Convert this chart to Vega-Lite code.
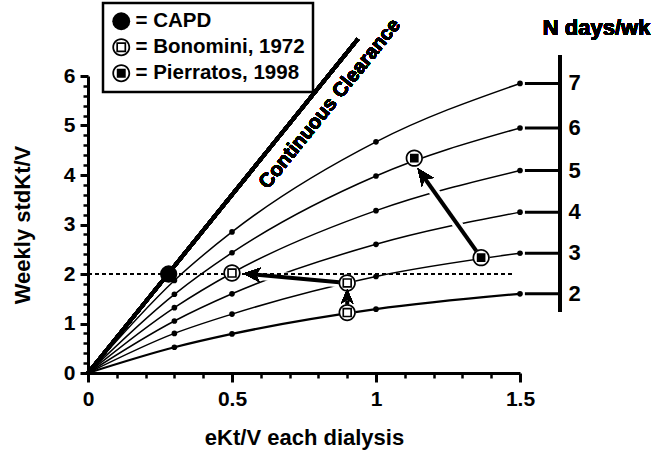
{
  "$schema": "https://vega.github.io/schema/vega-lite/v6.json",
  "autosize": "none",
  "width": 432,
  "height": 297,
  "padding": {"left": 88, "top": 76, "right": 147, "bottom": 77},
  "background": "white",
  "config": {
    "font": "Liberation Sans",
    "view": {"stroke": null},
    "legend": {"strokeWidth": 2.5},
    "axis": {"ticks": true}
  },
  "datasets": {
    "curves": [
      {"n": 2, "x": 0, "y": 0}, {"n": 2, "x": 0.3, "y": 0.52}, {"n": 2, "x": 0.5, "y": 0.79}, {"n": 2, "x": 1, "y": 1.29}, {"n": 2, "x": 1.5, "y": 1.6},
      {"n": 3, "x": 0, "y": 0}, {"n": 3, "x": 0.3, "y": 0.8}, {"n": 3, "x": 0.5, "y": 1.19}, {"n": 3, "x": 1, "y": 1.95}, {"n": 3, "x": 1.5, "y": 2.42},
      {"n": 4, "x": 0, "y": 0}, {"n": 4, "x": 0.3, "y": 1.05}, {"n": 4, "x": 0.5, "y": 1.6}, {"n": 4, "x": 1, "y": 2.6}, {"n": 4, "x": 1.5, "y": 3.25},
      {"n": 5, "x": 0, "y": 0}, {"n": 5, "x": 0.3, "y": 1.32}, {"n": 5, "x": 0.5, "y": 2.02}, {"n": 5, "x": 1, "y": 3.28}, {"n": 5, "x": 1.5, "y": 4.09},
      {"n": 6, "x": 0, "y": 0}, {"n": 6, "x": 0.3, "y": 1.59}, {"n": 6, "x": 0.5, "y": 2.43}, {"n": 6, "x": 1, "y": 3.98}, {"n": 6, "x": 1.5, "y": 4.95},
      {"n": 7, "x": 0, "y": 0}, {"n": 7, "x": 0.3, "y": 1.87}, {"n": 7, "x": 0.5, "y": 2.85}, {"n": 7, "x": 1, "y": 4.67}, {"n": 7, "x": 1.5, "y": 5.85}
    ],
    "markers": [
      {"series": "CAPD", "x": 0.28, "y": 2.0},
      {"series": "Bonomini, 1972", "x": 0.5, "y": 2.02},
      {"series": "Bonomini, 1972", "x": 0.9, "y": 1.82},
      {"series": "Bonomini, 1972", "x": 0.9, "y": 1.22},
      {"series": "Pierratos, 1998", "x": 1.365, "y": 2.33},
      {"series": "Pierratos, 1998", "x": 1.133, "y": 4.34}
    ],
    "arrows": [
      {"x": 0.9, "y": 1.82, "x2": 0.578, "y2": 1.99},
      {"x": 1.365, "y": 2.33, "x2": 1.167, "y2": 3.95},
      {"x": 0.9, "y": 1.22, "x2": 0.9, "y2": 1.47}
    ]
  },
  "resolve": {"axis": {"x": "independent", "y": "independent"}},
  "layer": [
    {
      "encoding": {
        "x": {
          "type": "quantitative",
          "scale": {"domain": [0, 1.5], "nice": false, "zero": false},
          "axis": {
            "values": [0, 0.5, 1, 1.5],
            "format": "~g",
            "orient": "bottom",
            "ticks": true,
            "tickSize": 9,
            "tickWidth": 3,
            "tickColor": "black",
            "domainColor": "black",
            "domainWidth": 3,
            "grid": false,
            "labelOverlap": false,
            "labelFlush": false,
            "labelFontSize": 21,
            "labelFontWeight": "bold",
            "labelColor": "black",
            "labelPadding": 6,
            "title": "eKt/V each dialysis",
            "titleFontSize": 22,
            "titleFontWeight": "bold",
            "titleColor": "black",
            "titlePadding": 18
          }
        },
        "y": {
          "type": "quantitative",
          "scale": {"domain": [0, 6], "nice": false, "zero": false},
          "axis": {
            "values": [0, 1, 2, 3, 4, 5, 6],
            "format": "~g",
            "orient": "left",
            "ticks": true,
            "tickSize": 8,
            "tickWidth": 3,
            "tickColor": "black",
            "domainColor": "black",
            "domainWidth": 3,
            "grid": false,
            "labelOverlap": false,
            "labelFlush": false,
            "labelFontSize": 21,
            "labelFontWeight": "bold",
            "labelColor": "black",
            "labelPadding": 5,
            "title": "Weekly stdKt/V",
            "titleFontSize": 22,
            "titleFontWeight": "bold",
            "titleColor": "black",
            "titlePadding": 29
          }
        }
      },
      "layer": [
        {
          "data": {"name": "curves"},
          "mark": {"type": "rule", "color": "black", "strokeWidth": 3.5},
          "encoding": {"x": {"datum": 0}, "y": {"datum": 0}, "x2": {"datum": 0.9375}, "y2": {"datum": 6.75}}
        },
        {
          "data": {"name": "curves"},
          "transform": [{"filter": "datum.n != 2"}],
          "mark": {"type": "line", "color": "black", "strokeWidth": 1.5, "interpolate": "monotone"},
          "encoding": {"x": {"field": "x", "type": "quantitative"}, "y": {"field": "y", "type": "quantitative"}, "detail": {"field": "n", "type": "nominal"}}
        },
        {
          "data": {"name": "curves"},
          "transform": [{"filter": "datum.n == 2"}],
          "mark": {"type": "line", "color": "black", "strokeWidth": 2.3, "interpolate": "monotone"},
          "encoding": {"x": {"field": "x", "type": "quantitative"}, "y": {"field": "y", "type": "quantitative"}, "detail": {"field": "n", "type": "nominal"}}
        },
        {
          "data": {"name": "curves"},
          "transform": [{"filter": "datum.x > 0"}],
          "mark": {"type": "point", "shape": "circle", "filled": true, "color": "black", "opacity": 1, "size": 32},
          "encoding": {"x": {"field": "x", "type": "quantitative"}, "y": {"field": "y", "type": "quantitative"}}
        },
        {
          "data": {"name": "arrows"},
          "transform": [{"filter": "datum.x != datum.x2"}],
          "mark": {"type": "rule", "color": "white", "strokeWidth": 10},
          "encoding": {"x": {"field": "x", "type": "quantitative"}, "y": {"field": "y", "type": "quantitative"}, "x2": {"field": "x2"}, "y2": {"field": "y2"}}
        },
        {
          "data": {"name": "curves"},
          "mark": {"type": "rule", "color": "black", "strokeWidth": 1.6, "strokeDash": [4, 3]},
          "encoding": {"x": {"datum": 0}, "x2": {"datum": 1.48}, "y": {"datum": 2}}
        },
        {
          "data": {"name": "arrows"},
          "mark": {"type": "rule", "color": "black", "strokeWidth": 4},
          "encoding": {"x": {"field": "x", "type": "quantitative"}, "y": {"field": "y", "type": "quantitative"}, "x2": {"field": "x2"}, "y2": {"field": "y2"}}
        },
        {
          "data": {"name": "markers"},
          "transform": [{"filter": "datum.series != 'CAPD'"}],
          "mark": {"type": "point", "shape": "circle", "filled": true, "color": "white", "opacity": 1, "size": 280},
          "encoding": {"x": {"field": "x", "type": "quantitative"}, "y": {"field": "y", "type": "quantitative"}}
        },
        {
          "data": {"name": "markers"},
          "mark": {"type": "point", "filled": true, "color": "black", "opacity": 1, "size": 300, "strokeWidth": 0},
          "encoding": {
            "x": {"field": "x", "type": "quantitative"},
            "y": {"field": "y", "type": "quantitative"},
            "shape": {
              "field": "series",
              "type": "nominal",
              "scale": {
                "domain": ["CAPD", "Bonomini, 1972", "Pierratos, 1998"],
                "range": [
                  "circle",
                  "M-1,0A1,1,0,1,1,1,0A1,1,0,1,1,-1,0ZM-0.8,0A0.8,0.8,0,1,0,0.8,0A0.8,0.8,0,1,0,-0.8,0ZM-0.55,-0.55H0.55V0.55H-0.55ZM-0.36,-0.36V0.36H0.36V-0.36Z",
                  "M-1,0A1,1,0,1,1,1,0A1,1,0,1,1,-1,0ZM-0.8,0A0.8,0.8,0,1,0,0.8,0A0.8,0.8,0,1,0,-0.8,0ZM-0.5,-0.5H0.5V0.5H-0.5Z"
                ]
              },
              "legend": {
                "orient": "none",
                "legendX": 15,
                "legendY": -73,
                "title": null,
                "strokeColor": "black",
                "fillColor": "white",
                "padding": 8,
                "rowPadding": 5,
                "labelOffset": 4,
                "labelFontSize": 20.5,
                "labelFontWeight": "bold",
                "labelColor": "black",
                "labelLimit": 300,
                "labelExpr": "'= ' + datum.label",
                "symbolSize": 320,
                "symbolStrokeWidth": 0,
                "symbolFillColor": "black",
                "symbolOpacity": 1
              }
            }
          }
        },
        {
          "data": {"name": "curves"},
          "mark": {"type": "point", "filled": true, "color": "black", "opacity": 1, "size": 289, "strokeWidth": 0, "angle": 275, "shape": "M0,0L0.85,2L0,1.4L-0.85,2Z"},
          "encoding": {"x": {"datum": 0.54}, "y": {"datum": 2.01}}
        },
        {
          "data": {"name": "curves"},
          "mark": {"type": "point", "filled": true, "color": "black", "opacity": 1, "size": 289, "strokeWidth": 0, "angle": 324, "shape": "M0,0L0.85,2L0,1.4L-0.85,2Z"},
          "encoding": {"x": {"datum": 1.145}, "y": {"datum": 4.13}}
        },
        {
          "data": {"name": "curves"},
          "mark": {"type": "point", "filled": true, "color": "black", "opacity": 1, "size": 200, "strokeWidth": 0, "angle": 0, "shape": "M0,0L0.85,2L0,1.4L-0.85,2Z"},
          "encoding": {"x": {"datum": 0.9}, "y": {"datum": 1.69}}
        },
        {
          "data": {"name": "curves"},
          "transform": [{"filter": "datum.x == 1.5"}],
          "mark": {"type": "rule", "color": "black", "strokeWidth": 3},
          "encoding": {"x": {"datum": 1.517}, "x2": {"datum": 1.639}, "y": {"field": "y", "type": "quantitative"}}
        },
        {
          "data": {"name": "curves"},
          "mark": {"type": "rule", "color": "black", "strokeWidth": 3},
          "encoding": {"x": {"datum": 1.639}, "y": {"datum": 1.23}, "y2": {"datum": 6.42}}
        },
        {
          "data": {"name": "curves"},
          "transform": [{"filter": "datum.x == 1.5"}],
          "mark": {"type": "text", "color": "black", "fontSize": 22, "fontWeight": "bold", "align": "center", "baseline": "middle"},
          "encoding": {"x": {"datum": 1.69}, "y": {"field": "y", "type": "quantitative"}, "text": {"field": "n"}}
        },
        {
          "data": {"name": "curves"},
          "mark": {"type": "text", "color": "black", "fontSize": 22, "fontWeight": "bold", "align": "center", "baseline": "middle", "text": "N days/wk"},
          "encoding": {"x": {"datum": 1.766}, "y": {"datum": 6.96}}
        },
        {
          "data": {"name": "curves"},
          "mark": {"type": "text", "color": "black", "fontSize": 20, "fontWeight": "bold", "align": "center", "baseline": "middle", "angle": 309, "text": "Continuous Clearance"},
          "encoding": {"x": {"datum": 0.84}, "y": {"datum": 5.44}}
        }
      ]
    },
    {
      "data": {"name": "curves"},
      "mark": {"type": "point", "opacity": 0},
      "encoding": {
        "x": {
          "field": "x",
          "type": "quantitative",
          "scale": {"domain": [0, 1.5], "nice": false, "zero": false},
          "axis": {
            "values": [0.1, 0.2, 0.3, 0.4, 0.6, 0.7, 0.8, 0.9, 1.1, 1.2, 1.3, 1.4],
            "orient": "bottom",
            "ticks": true,
            "labels": false,
            "domain": false,
            "grid": false,
            "title": null,
            "tickSize": 5,
            "tickWidth": 2.5,
            "tickColor": "black"
          }
        },
        "y": {
          "field": "y",
          "type": "quantitative",
          "scale": {"domain": [0, 6], "nice": false, "zero": false},
          "axis": {
            "values": [0.2, 0.4, 0.6, 0.8, 1.2, 1.4, 1.6, 1.8, 2.2, 2.4, 2.6, 2.8, 3.2, 3.4, 3.6, 3.8, 4.2, 4.4, 4.6, 4.8, 5.2, 5.4, 5.6, 5.8],
            "orient": "left",
            "ticks": true,
            "labels": false,
            "domain": false,
            "grid": false,
            "title": null,
            "tickSize": 5,
            "tickWidth": 2.5,
            "tickColor": "black"
          }
        }
      }
    }
  ]
}
